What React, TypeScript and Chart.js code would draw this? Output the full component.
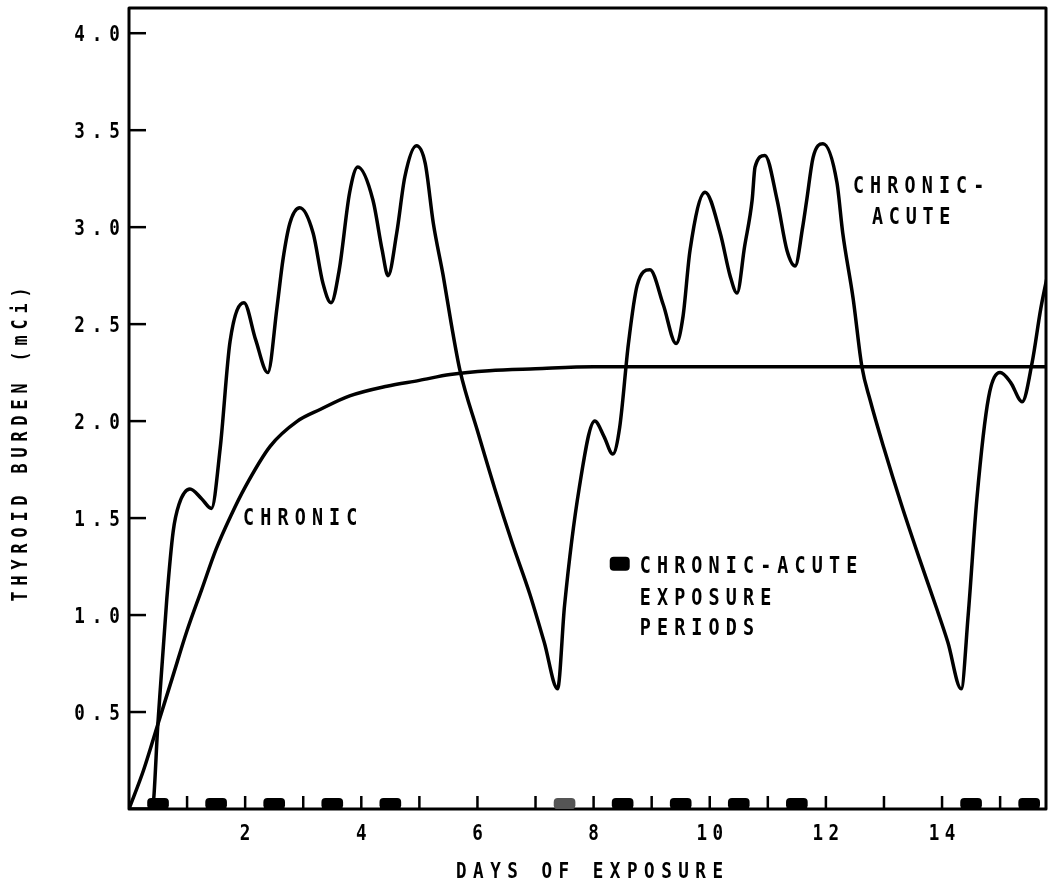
import React, { useEffect, useRef } from "react";
import { Chart, registerables } from "chart.js";

Chart.register(...registerables);

// ---- data ----
const chronicDays = [0, 0.25, 0.5, 0.75, 1.0, 1.25, 1.5, 1.75, 2.0, 2.43, 2.9, 3.29, 3.8, 4.44, 5.0, 5.53, 6.2, 7.0, 8.0, 10.0, 12.0, 14.0, 15.85];
const chronicValues = [0, 0.2, 0.44, 0.68, 0.92, 1.13, 1.34, 1.51, 1.66, 1.87, 2.0, 2.06, 2.13, 2.18, 2.21, 2.24, 2.26, 2.27, 2.28, 2.28, 2.28, 2.28, 2.28];

const acuteDays = [
  0, 0.4, 0.5, 0.65, 0.76, 0.86, 1.05, 1.25, 1.42, 1.57, 1.74, 1.98, 2.18, 2.39, 2.55, 2.65, 2.77, 2.94, 3.17, 3.34, 3.48,
  3.62, 3.8, 3.94, 4.2, 4.36, 4.46, 4.61, 4.75, 4.95, 5.1, 5.24, 5.41, 5.55, 5.7, 6.0, 6.3, 6.6, 6.9, 7.15, 7.38,
  7.5, 7.75, 8.02, 8.18, 8.33, 8.45, 8.6, 8.75, 8.97, 9.2, 9.42, 9.54, 9.66, 9.92, 10.18, 10.35, 10.47, 10.6, 10.73, 10.78,
  10.95, 11.16, 11.33, 11.47, 11.6, 11.67, 11.78, 11.95, 12.19, 12.29, 12.47, 12.62, 12.76, 13.0, 13.3, 13.6, 13.9, 14.1, 14.33,
  14.45, 14.6, 14.8, 15.0, 15.18, 15.38, 15.55, 15.7, 15.85,
];
const acuteValues = [
  0, 0, 0.45, 1.08, 1.43, 1.57, 1.65, 1.6, 1.55, 1.86, 2.41, 2.61, 2.42, 2.25, 2.59, 2.83, 3.02, 3.1, 2.97, 2.71, 2.61,
  2.78, 3.18, 3.31, 3.14, 2.88, 2.75, 2.97, 3.26, 3.42, 3.33, 3.02, 2.75, 2.5, 2.26, 1.95, 1.65, 1.37, 1.11, 0.86, 0.62,
  1.05, 1.65, 2.0, 1.92, 1.83, 1.97, 2.4, 2.7, 2.78, 2.6, 2.4, 2.54, 2.88, 3.18, 2.97, 2.75, 2.66, 2.9, 3.14, 3.31,
  3.37, 3.14, 2.88, 2.8, 3.0, 3.14, 3.36, 3.43, 3.23, 2.97, 2.63, 2.28, 2.11, 1.86, 1.57, 1.3, 1.04, 0.86, 0.62,
  1.0, 1.6, 2.12, 2.25, 2.2, 2.1, 2.3, 2.58, 2.8,
];

const exposureDays = [0.5, 1.5, 2.5, 3.5, 4.5, 7.5, 8.5, 9.5, 10.5, 11.5, 14.5, 15.5];
const exposureHeights = [0.055, 0.055, 0.055, 0.055, 0.055, 0.055, 0.055, 0.055, 0.055, 0.055, 0.055, 0.055];
const exposureFaint = [false, false, false, false, false, true, false, false, false, false, false, false];

const yTickValues = [0.5, 1.0, 1.5, 2.0, 2.5, 3.0, 3.5, 4.0];
const yTickLabels = ["0.5", "1.0", "1.5", "2.0", "2.5", "3.0", "3.5", "4.0"];
const xMinorTickDays = [1, 2, 3, 4, 5, 6, 7, 8, 9, 10, 11, 12, 13, 14, 15];
const xLabelDays = [2, 4, 6, 8, 10, 12, 14];
const xTickLabels = ["2", "4", "6", "8", "10", "12", "14"];

const X_MAX = 15.79;
const Y_MAX = 4.13;

const xTitle = "DAYS OF EXPOSURE";
const yTitle = "THYROID BURDEN (mCi)";
const chronicLabel = "CHRONIC";
const acuteLabelLines = ["CHRONIC-", "ACUTE"];
const legendLines = ["CHRONIC-ACUTE", "EXPOSURE", "PERIODS"];

const FONT = "'DejaVu Sans Mono', monospace";
const FONT_SIZE = 23;
const CAP = 0.729;

function spaced(ctx: CanvasRenderingContext2D, text: string, cx0: number, cy: number, pitch: number, size = FONT_SIZE, sx = 0.8) {
  ctx.save();
  ctx.font = `bold ${size}px ${FONT}`;
  ctx.fillStyle = "#000";
  ctx.textAlign = "center";
  ctx.textBaseline = "alphabetic";
  const base = cy + (size * CAP) / 2;
  for (let i = 0; i < text.length; i++) {
    const ch = text[i];
    if (ch === " ") continue;
    ctx.save();
    ctx.translate(cx0 + i * pitch, base);
    ctx.scale(sx, 1);
    ctx.fillText(ch, 0, 0);
    ctx.restore();
  }
  ctx.restore();
}

const decorPlugin = {
  id: "decor",
  beforeDatasetsDraw(chart: any) {
    const ctx: CanvasRenderingContext2D = chart.ctx;
    const { left, right, top, bottom } = chart.chartArea;
    const xs = chart.scales.x;
    const ys = chart.scales.y;
    ctx.save();
    ctx.strokeStyle = "#000";
    ctx.lineWidth = 3;
    ctx.lineJoin = "round";
    ctx.strokeRect(left, top, right - left, bottom - top);
    ctx.lineWidth = 2.5;
    yTickValues.forEach((v) => {
      const y = ys.getPixelForValue(v);
      ctx.beginPath();
      ctx.moveTo(left, y);
      ctx.lineTo(left + 17, y);
      ctx.stroke();
    });
    xMinorTickDays.forEach((d) => {
      const x = xs.getPixelForValue(d);
      ctx.beginPath();
      ctx.moveTo(x, bottom);
      ctx.lineTo(x, bottom - 13);
      ctx.stroke();
    });
    ctx.restore();
  },
  afterDraw(chart: any) {
    const ctx: CanvasRenderingContext2D = chart.ctx;
    const { left, right, top, bottom } = chart.chartArea;
    const xs = chart.scales.x;
    const ys = chart.scales.y;
    const P = 17.2;
    yTickValues.forEach((v, i) => {
      const lab = yTickLabels[i];
      const y = ys.getPixelForValue(v);
      const lastCx = left - 14.5;
      spaced(ctx, lab, lastCx - (lab.length - 1) * 17.5, y, 17.5, 22);
    });
    xLabelDays.forEach((d, i) => {
      const lab = xTickLabels[i];
      const x = xs.getPixelForValue(d);
      const pitch = 16;
      spaced(ctx, lab, x - ((lab.length - 1) * pitch) / 2, bottom + 23, pitch, 22);
    });
    const cx = (left + right) / 2 + 2;
    spaced(ctx, xTitle, cx - ((xTitle.length - 1) * 17.1) / 2, bottom + 61, 17.1, 22);
    ctx.save();
    ctx.translate(19, (top + bottom) / 2 + 36);
    ctx.rotate(-Math.PI / 2);
    spaced(ctx, yTitle, -((yTitle.length - 1) * 16) / 2, 0, 16, 21);
    ctx.restore();
    spaced(ctx, chronicLabel, xs.getPixelForValue(2.06), ys.getPixelForValue(1.51), P);
    spaced(ctx, acuteLabelLines[0], xs.getPixelForValue(12.56), ys.getPixelForValue(3.22), P);
    spaced(ctx, acuteLabelLines[1], xs.getPixelForValue(12.89), ys.getPixelForValue(3.06), 16.8);
    const bx = xs.getPixelForValue(8.45);
    const by = ys.getPixelForValue(1.265);
    ctx.save();
    ctx.fillStyle = "#000";
    ctx.beginPath();
    (ctx as any).roundRect(bx - 10, by - 7, 20, 14, 4);
    ctx.fill();
    ctx.restore();
    const legendRows = [1.26, 1.095, 0.94];
    legendLines.forEach((t, i) => {
      spaced(ctx, t, xs.getPixelForValue(8.89), ys.getPixelForValue(legendRows[i]), P);
    });
  },
};

export default function App() {
  const ref = useRef<HTMLCanvasElement | null>(null);
  useEffect(() => {
    if (!ref.current) return;
    const chart = new Chart(ref.current, {
      type: "line",
      data: {
        datasets: [
          {
            type: "bar",
            label: "exposure",
            data: exposureDays.map((d, i) => ({ x: d, y: exposureHeights[i] })),
            backgroundColor: exposureFaint.map((f) => (f ? "#555" : "#000")),
            barThickness: 21,
            borderRadius: 4,
            borderSkipped: false,
            grouped: false,
            order: 3,
          } as any,
          {
            type: "line",
            label: "chronic",
            data: chronicDays.map((d, i) => ({ x: d, y: chronicValues[i] })),
            borderColor: "#000",
            borderWidth: 3.5,
            pointRadius: 0,
            cubicInterpolationMode: "monotone",
            fill: false,
            order: 2,
          },
          {
            type: "line",
            label: "chronic-acute",
            data: acuteDays.map((d, i) => ({ x: d, y: acuteValues[i] })),
            borderColor: "#000",
            borderWidth: 3.5,
            pointRadius: 0,
            cubicInterpolationMode: "monotone",
            fill: false,
            order: 1,
          },
        ],
      },
      options: {
        animation: false,
        responsive: false,
        devicePixelRatio: 1,
        layout: { padding: { left: 0, top: 8, right: 12, bottom: 0 } },
        plugins: { legend: { display: false }, tooltip: { enabled: false } },
        events: [],
        scales: {
          x: {
            type: "linear",
            min: 0,
            max: X_MAX,
            offset: false,
            grid: { display: false, offset: false },
            border: { display: false },
            ticks: { display: false },
            afterFit: (s: any) => {
              s.height = 77;
            },
          },
          y: {
            type: "linear",
            min: 0,
            max: Y_MAX,
            grid: { display: false },
            border: { display: false },
            ticks: { display: false },
            afterFit: (s: any) => {
              s.width = 129;
            },
          },
        },
      } as any,
      plugins: [decorPlugin],
    });
    return () => chart.destroy();
  }, []);
  return (
    <div style={{ position: "fixed", left: 0, top: 0, width: 1058, height: 886, background: "#fff" }}>
      <canvas ref={ref} width={1058} height={886} />
    </div>
  );
}
